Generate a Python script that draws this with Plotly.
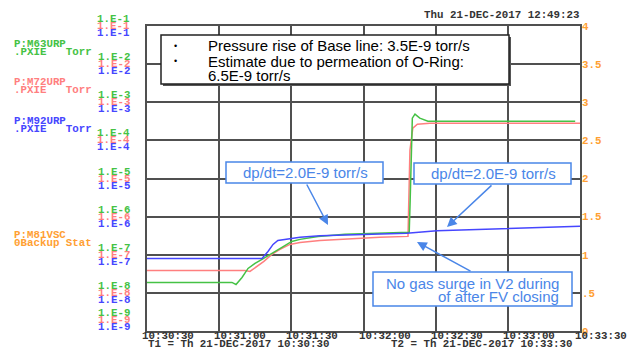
import plotly.graph_objects as go

# ---------------- data ----------------
# time in seconds after T1 (10:30:30)
green_t = [0, 35.3, 37.0, 39.5, 42.0, 44.9, 47.8, 51.9, 56.5, 60.2, 63.6, 71.1, 82.3, 96.8, 109.0,
           109.4, 109.8, 110.3, 111.4, 113.4, 116.8, 178]
green_p = [1.88e-8, 1.88e-8, 1.66e-8, 2.54e-8, 4.38e-8, 5.93e-8, 7.55e-8, 1.09e-7, 1.66e-7, 2.24e-7,
           2.53e-7, 3.03e-7, 3.43e-7, 3.64e-7, 3.87e-7, 2.68e-6, 5.52e-5, 3.83e-4, 4.88e-4, 3.83e-4,
           3.19e-4, 3.19e-4]

red_t = [0, 40.7, 42.8, 45.3, 48.6, 51.9, 55.3, 59.4, 63.6, 71.9, 82.3, 96.8, 108.5, 108.9, 109.3,
         110.5, 112.4, 117.6, 180]
red_p = [3.88e-8, 3.88e-8, 3.65e-8, 4.66e-8, 6.70e-8, 1.02e-7, 1.38e-7, 1.87e-7, 2.11e-7, 2.38e-7,
         2.61e-7, 2.86e-7, 3.03e-7, 2.68e-6, 5.5e-5, 2.09e-4, 2.66e-4, 2.83e-4, 2.83e-4]

blue_t = [0, 47.8, 50.3, 52.4, 54.4, 59.4, 63.6, 71.9, 84.3, 108.0, 120.5, 146.7, 180]
blue_p = [8.0e-8, 8.0e-8, 1.22e-7, 1.87e-7, 2.38e-7, 2.69e-7, 2.86e-7, 3.13e-7, 3.33e-7, 3.64e-7,
          4.24e-7, 4.78e-7, 5.56e-7]

x_tickvals = [0, 30, 60, 90, 120, 150, 180]
x_ticktext = ["10:30:30", "10:31:00", "10:31:30", "10:32:00", "10:32:30", "10:33:00", "10:33:30"]
decades = [-1, -2, -3, -4, -5, -6, -7, -8, -9]
decade_labels = ["1.E-1", "1.E-2", "1.E-3", "1.E-4", "1.E-5", "1.E-6", "1.E-7", "1.E-8", "1.E-9"]
r_tickvals = [0, 0.5, 1, 1.5, 2, 2.5, 3, 3.5, 4]
r_ticktext = ["0", ".5", "1", "1.5", "2", "2.5", "3", "3.5", "4"]

GREEN = "#45c245"
RED = "#ff7f7f"
BLUE = "#4646ff"
ORANGE = "#ffa033"
ABLUE = "#4a86e8"
GRID = "#505050"
MONO = "Liberation Mono"
SANS = "Liberation Sans, Arial"
MS = 10.8
TS = 15

W, H = 629, 350
L, R, T, B = 147, 49, 26, 19
PW, PH = W - L - R, H - T - B


def px(x):
    return (x - L) / PW


def py(y):
    return (H - B - y) / PH


def mfont(col):
    return dict(family=MONO, size=MS, color=col, weight="bold")


fig = go.Figure()
fig.add_trace(go.Scatter(x=red_t, y=red_p, mode="lines", line=dict(color=RED, width=1.5), yaxis="y"))
fig.add_trace(go.Scatter(x=green_t, y=green_p, mode="lines", line=dict(color=GREEN, width=1.5), yaxis="y"))
fig.add_trace(go.Scatter(x=blue_t, y=blue_p, mode="lines", line=dict(color=BLUE, width=1.5), yaxis="y"))
# invisible trace for the right axis
fig.add_trace(go.Scatter(x=[0], y=[0], mode="markers", marker=dict(opacity=0), yaxis="y2",
                         hoverinfo="skip"))

annotations = []
# bottom time labels (left aligned just before each grid line)
for tv, tt in zip(x_tickvals, x_ticktext):
    annotations.append(dict(xref="x", yref="paper", x=tv, y=py(336), text=tt, showarrow=False,
                            xanchor="left", yanchor="middle", xshift=-7, font=mfont("#333333")))

# left stacked decade labels
for d, lab in zip(decades, decade_labels):
    extra = 11 if d == -9 else 0
    for col, sh in ((GREEN, 7), (RED, 0), (BLUE, -7)):
        annotations.append(dict(xref="paper", yref="y", x=px(132), y=d, text=lab, showarrow=False,
                                xanchor="right", yanchor="middle", yshift=sh + extra, font=mfont(col)))

# series name labels
names = [("P:M63URP", 44, GREEN), (".PXIE   Torr", 52, GREEN),
         ("P:M72URP", 82, RED), (".PXIE   Torr", 90, RED),
         ("P:M92URP", 121, BLUE), (".PXIE   Torr", 129, BLUE),
         ("P:M81VSC", 235, ORANGE), ("0Backup Stat", 243, ORANGE)]
for txt, yy, col in names:
    annotations.append(dict(xref="paper", yref="paper", x=px(12), y=py(yy), text=txt.replace(" ", "&nbsp;"),
                            showarrow=False, xanchor="left", yanchor="middle", font=mfont(col)))

# header / footer text
annotations.append(dict(xref="paper", yref="paper", x=px(582), y=py(15), text="Thu 21-DEC-2017 12:49:23",
                        showarrow=False, xanchor="right", yanchor="middle", font=mfont("#333333")))
annotations.append(dict(xref="paper", yref="paper", x=px(146), y=py(344), text="T1 = Th 21-DEC-2017 10:30:30",
                        showarrow=False, xanchor="left", yanchor="middle", font=mfont("#333333")))
annotations.append(dict(xref="paper", yref="paper", x=px(389), y=py(344), text="T2 = Th 21-DEC-2017 10:33:30",
                        showarrow=False, xanchor="left", yanchor="middle", font=mfont("#333333")))

# top note box text
for yy, txt, bullet in ((46, "Pressure rise of Base line: 3.5E-9 torr/s", True),
                        (61, "Estimate due to permeation of O-Ring:", True),
                        (75, "6.5E-9 torr/s", False)):
    if bullet:
        annotations.append(dict(xref="paper", yref="paper", x=px(175), y=py(yy), text="•", showarrow=False,
                                xanchor="center", yanchor="middle", font=dict(family=SANS, size=9, color="#000")))
    annotations.append(dict(xref="paper", yref="paper", x=px(206), y=py(yy), text=txt, showarrow=False,
                            xanchor="left", yanchor="middle", font=dict(family=SANS, size=TS, color="#000")))

# blue callout texts
annotations.append(dict(xref="paper", yref="paper", x=px(305), y=py(172.5), text="dp/dt=2.0E-9 torr/s",
                        showarrow=False, xanchor="center", yanchor="middle",
                        font=dict(family=SANS, size=TS, color=ABLUE)))
annotations.append(dict(xref="paper", yref="paper", x=px(493), y=py(173), text="dp/dt=2.0E-9 torr/s",
                        showarrow=False, xanchor="center", yanchor="middle",
                        font=dict(family=SANS, size=TS, color=ABLUE)))
annotations.append(dict(xref="paper", yref="paper", x=px(561), y=py(283), text="No gas surge in V2 during",
                        showarrow=False, xanchor="right", yanchor="middle",
                        font=dict(family=SANS, size=TS, color=ABLUE)))
annotations.append(dict(xref="paper", yref="paper", x=px(561), y=py(296), text="of after FV closing",
                        showarrow=False, xanchor="right", yanchor="middle",
                        font=dict(family=SANS, size=TS, color=ABLUE)))

# arrows (tip, tail) in pixels
for (tx, ty), (sx, sy) in (((328, 225), (306, 183)), ((447, 227), (493, 184)), ((417, 242), (472, 272))):
    annotations.append(dict(xref="paper", yref="paper", x=px(tx), y=py(ty), ax=sx - tx, ay=sy - ty,
                            text="", showarrow=True, arrowhead=2, arrowsize=1.3, arrowwidth=1.5,
                            arrowcolor=ABLUE, standoff=0))

shapes = [
    dict(type="rect", xref="paper", yref="paper", x0=px(163), x1=px(511), y0=py(86), y1=py(37),
         line=dict(color="#333333", width=0), fillcolor="#555555", layer="above"),
    dict(type="rect", xref="paper", yref="paper", x0=px(161), x1=px(509), y0=py(84), y1=py(35),
         line=dict(color="#222222", width=1.5), fillcolor="white", layer="above"),
    dict(type="rect", xref="paper", yref="paper", x0=px(226), x1=px(383), y0=py(183), y1=py(162),
         line=dict(color=ABLUE, width=1.5), fillcolor="white", layer="above"),
    dict(type="rect", xref="paper", yref="paper", x0=px(414), x1=px(571), y0=py(184), y1=py(163),
         line=dict(color=ABLUE, width=1.5), fillcolor="white", layer="above"),
    dict(type="rect", xref="paper", yref="paper", x0=px(373), x1=px(572), y0=py(306), y1=py(272),
         line=dict(color=ABLUE, width=1.5), fillcolor="white", layer="above"),
]

fig.update_layout(
    width=W, height=H, margin=dict(l=L, r=R, t=T, b=B, autoexpand=False),
    paper_bgcolor="white", plot_bgcolor="white", showlegend=False,
    xaxis=dict(range=[0, 180], tickvals=x_tickvals, showticklabels=False, showgrid=True,
               gridcolor=GRID, gridwidth=1.5, zeroline=False, showline=True, linecolor=GRID,
               linewidth=2, mirror=True, ticks="", automargin=False),
    yaxis=dict(type="log", range=[-9, -1], tickvals=[10.0 ** d for d in decades], showticklabels=False,
               showgrid=True, gridcolor=GRID, gridwidth=1.5, zeroline=False, showline=True,
               linecolor=GRID, linewidth=2, mirror=True, ticks="", automargin=False),
    yaxis2=dict(range=[0, 4], tickvals=r_tickvals, ticktext=r_ticktext, overlaying="y", side="right",
                showgrid=False, zeroline=False, showline=False, ticks="", ticklabelstandoff=1,
                automargin=False, tickfont=mfont(ORANGE)),
    annotations=annotations, shapes=shapes,
)

fig.write_html("out.html")
